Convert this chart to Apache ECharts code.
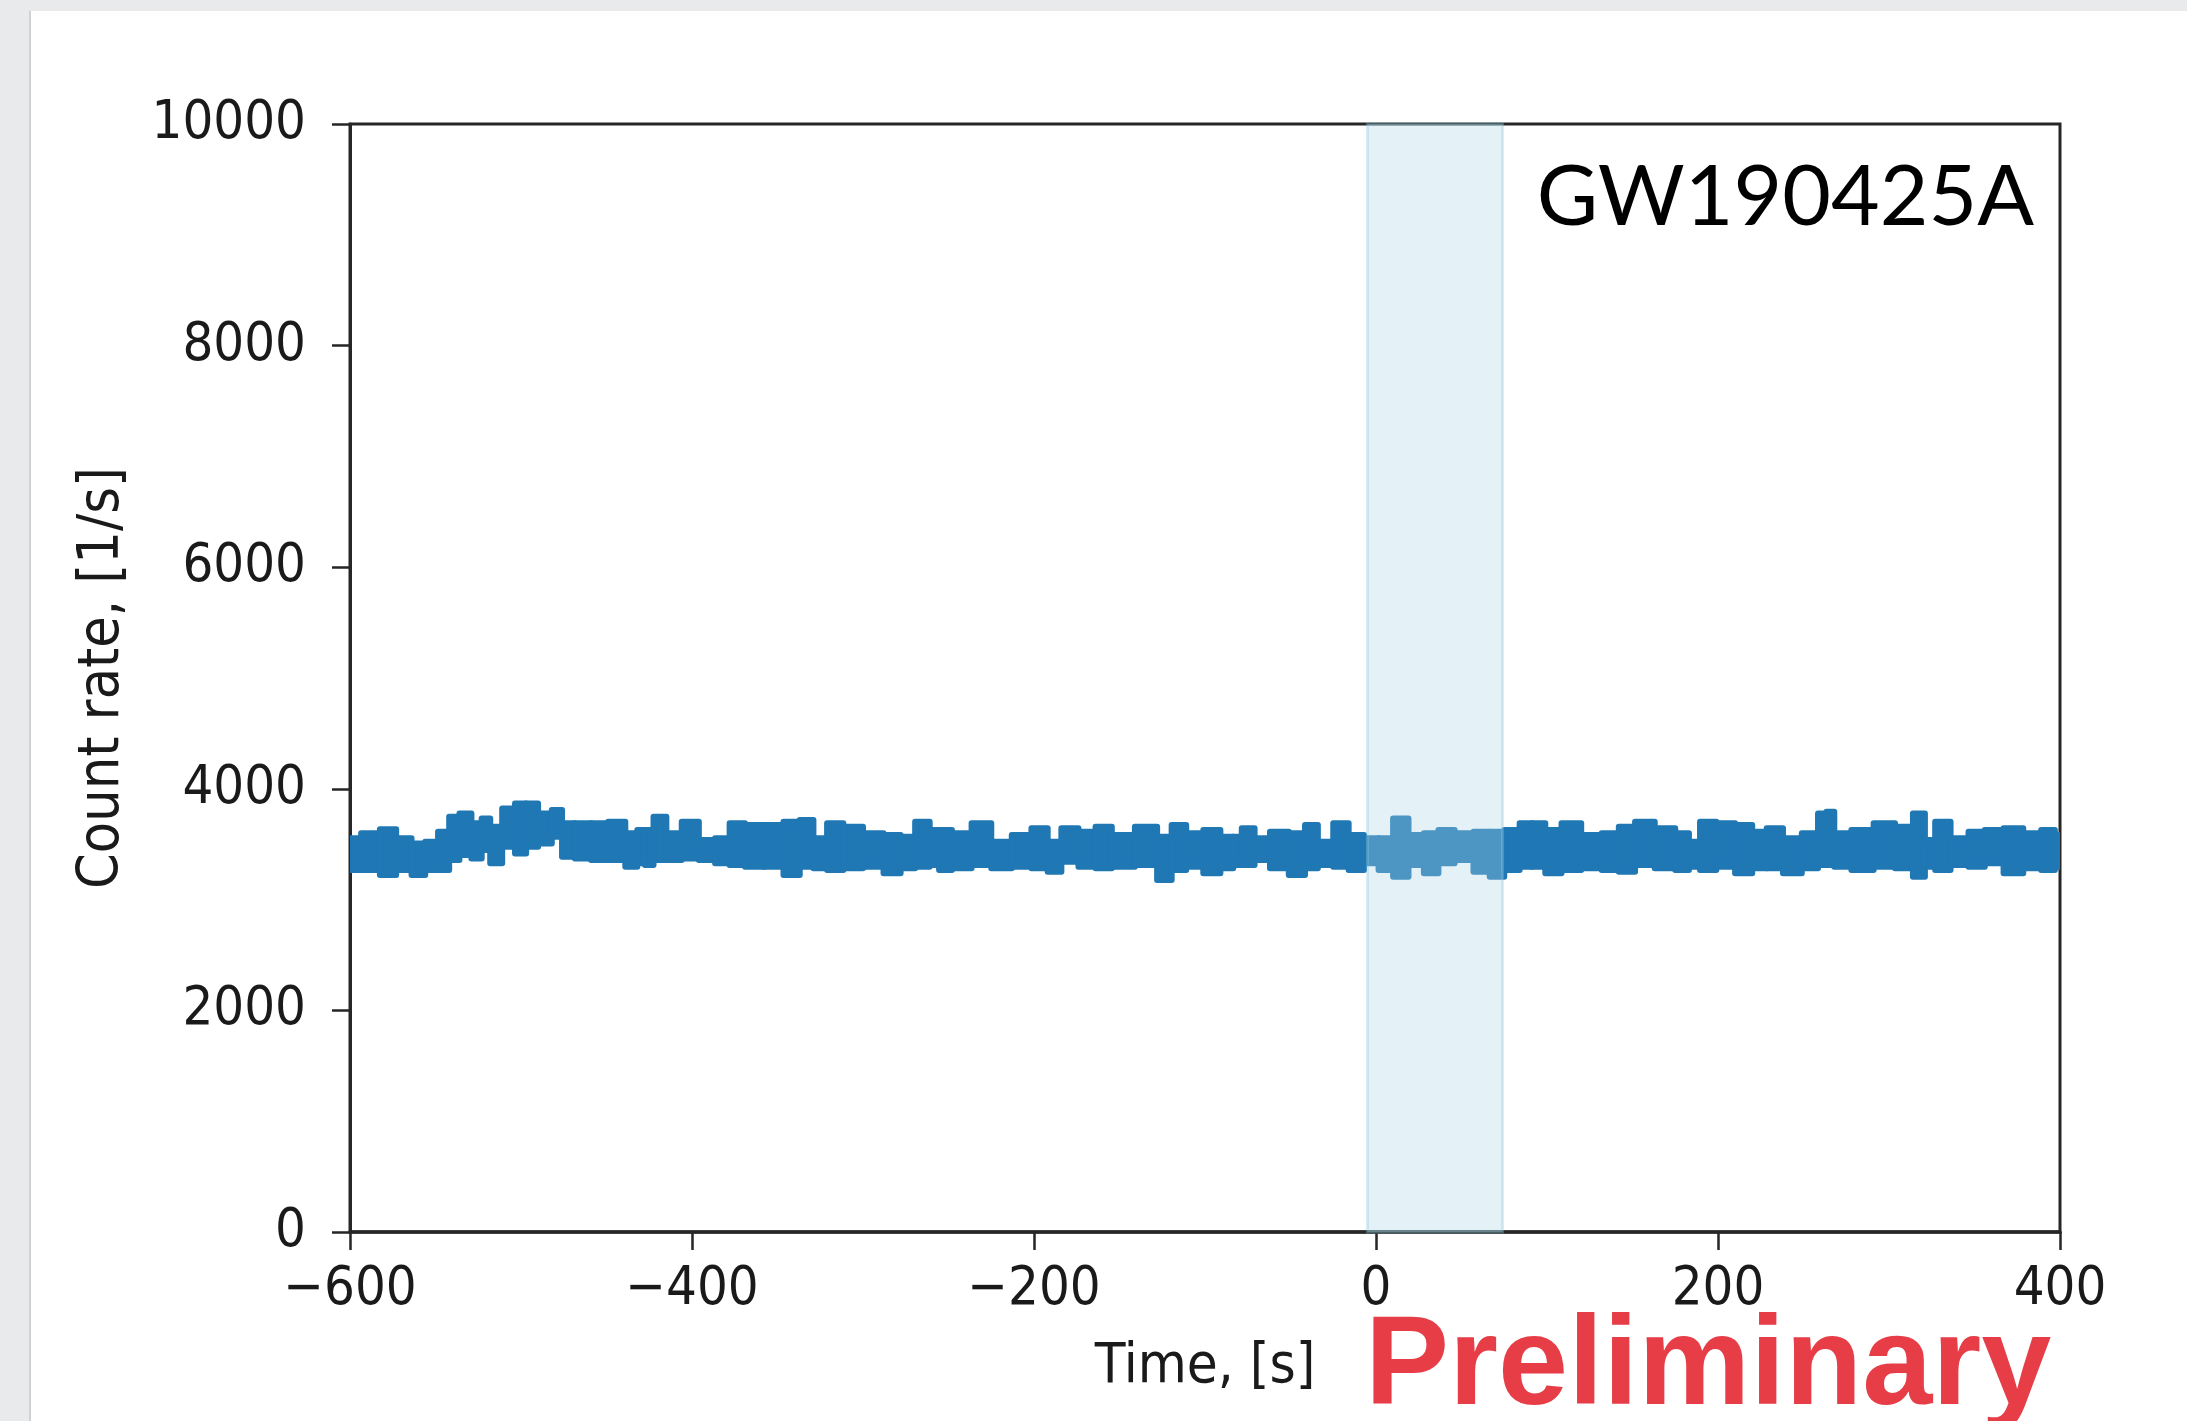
<!DOCTYPE html>
<html>
<head>
<meta charset="utf-8">
<script src="https://cdn.jsdelivr.net/npm/echarts@6/dist/echarts.min.js"></script>
<style>
  html, body { margin: 0; padding: 0; width: 2187px; height: 1421px; overflow: hidden; background: #e8eaeb; }
  #card { position: absolute; left: 29px; top: 11px; right: 0; bottom: 0; background: #ffffff; border-left: 2px solid #cfd2d4; }
  #chart { position: absolute; left: 0; top: 0; width: 2187px; height: 1421px; }
</style>
</head>
<body>
<div id="card"></div>
<div id="chart"></div>
<script>
// ---- data ----
// time [s] of each envelope reading
const times = [-600,-587,-578,-568,-560,-552,-545,-539,-533,-525,-521,-515,-507,-500,-494,-486,-478,-474,-463,-455,-443,-435,-429,
  -426,-419,-411,-401,-391,-382,-374,-364,-352,-341,-333,-325,-317,-306,-294,-282,-274,-265,-257,
  -254,-242,-231,-219,-207,-196,-188,-180,-168,-160,-149,-133,-123,-116,-106,-96,-86,
  -81,-76,-66,-58,-44,-39,-29,-21,-11,-3,6,14,24,32,41,51,63,70,80,88,
  95,103,114,126,138,146,157,169,181,185,194,204,216,224,233,243,255,262,
  265,271,285,297,310,318,324,330,342,351,361,373,384,394,400];
// upper edge of the noisy count-rate trace [1/s]
const rateHigh = [3553,3598,3634,3553,3507,3523,3613,3748,3778,3688,3733,3658,3823,3868,3868,3778,3808,3688,3688,3688,3703,3598,3628,
  3628,3748,3598,3703,3538,3553,3688,3673,3673,3703,3718,3553,3688,3658,3598,3583,3568,3703,3628,
  3628,3598,3688,3523,3583,3643,3523,3643,3613,3658,3583,3658,3568,3673,3598,3628,3568,
  3568,3643,3553,3613,3598,3673,3523,3688,3583,3553,3553,3733,3583,3598,3628,3598,3613,3613,3628,3688,
  3688,3628,3688,3583,3598,3658,3703,3643,3598,3523,3703,3688,3673,3613,3643,3553,3598,3778,
  3793,3598,3628,3688,3658,3778,3538,3703,3553,3613,3628,3643,3598,3628,3583];
// lower edge of the noisy count-rate trace [1/s]
const rateLow = [3267,3267,3222,3267,3222,3267,3267,3357,3402,3372,3447,3327,3477,3417,3477,3507,3568,3387,3372,3357,3357,3297,3327,
  3312,3357,3357,3372,3357,3327,3312,3297,3297,3222,3297,3282,3267,3282,3297,3237,3282,3297,3312,
  3267,3282,3312,3282,3297,3282,3252,3342,3297,3282,3297,3312,3177,3267,3297,3237,3282,
  3312,3312,3357,3282,3222,3282,3312,3297,3267,3327,3267,3207,3312,3237,3327,3357,3252,3207,3267,3297,
  3297,3237,3267,3282,3267,3252,3312,3282,3267,3297,3267,3297,3237,3282,3282,3237,3282,3312,
  3312,3297,3267,3297,3282,3207,3297,3267,3312,3297,3327,3237,3282,3267,3297];
// highlighted interval [s]
const shadeStart = -5;
const shadeEnd = 74;
// axes
const xTicks = { min: -600, max: 400, step: 200 };
const yTicks = { min: 0, max: 10000, step: 2000 };
const eventName = 'GW190425A';
const stampText = 'Preliminary';

// ---- chart ----
const LINE = '#1f77b4';
const AX = '#262626';
const labelFont = '"DejaVu Sans Condensed", "DejaVu Sans", sans-serif';

const chart = echarts.init(document.getElementById('chart'), null, { renderer: 'canvas' });

// each reading covers the span half-way to its neighbours (step 'middle')
const bandData = times.map((t, i) => {
  const left = i === 0 ? t : (times[i - 1] + t) / 2;
  const right = i === times.length - 1 ? t : (t + times[i + 1]) / 2;
  return [left, right, rateLow[i], rateHigh[i]];
});

const minus = v => (v < 0 ? '\u2212' + Math.abs(v) : String(v));

chart.setOption({
  animation: false,
  backgroundColor: 'transparent',
  grid: {
    left: 350, top: 124, width: 1710, height: 1108,
    show: true, borderColor: AX, borderWidth: 3, backgroundColor: 'transparent'
  },
  xAxis: {
    type: 'value', min: xTicks.min, max: xTicks.max, interval: xTicks.step,
    name: 'Time, [s]', nameLocation: 'middle', nameGap: 107,
    nameTextStyle: { fontFamily: labelFont, fontSize: 56, color: '#1a1a1a' },
    axisLine: { show: true, onZero: false, lineStyle: { color: AX, width: 3.5 } },
    axisTick: { show: true, inside: false, length: 18, lineStyle: { color: AX, width: 2.5 } },
    axisLabel: { margin: 31, fontFamily: labelFont, fontSize: 54, color: '#1a1a1a', formatter: minus },
    splitLine: { show: false }
  },
  yAxis: {
    type: 'value', min: yTicks.min, max: yTicks.max, interval: yTicks.step,
    name: 'Count rate, [1/s]', nameLocation: 'middle', nameGap: 218, nameRotate: 90,
    nameTextStyle: { fontFamily: labelFont, fontSize: 57, color: '#1a1a1a' },
    axisLine: { show: true, onZero: false, lineStyle: { color: AX, width: 3 } },
    axisTick: { show: true, inside: false, length: 18, lineStyle: { color: AX, width: 2.5 } },
    axisLabel: { margin: 44, fontFamily: labelFont, fontSize: 54, color: '#1a1a1a', formatter: v => String(v) },
    splitLine: { show: false }
  },
  graphic: [
    {
      type: 'text', z: 20,
      style: {
        text: eventName, x: 2034, y: 156, textAlign: 'right', textVerticalAlign: 'top',
        font: '84px Lato, "Open Sans", sans-serif', fill: '#000000'
      }
    },
    {
      type: 'text', z: 20,
      style: {
        text: stampText, x: 1365, y: 1306, textAlign: 'left', textVerticalAlign: 'top',
        font: 'bold 126px "Liberation Sans", Arial, sans-serif', fill: '#e63d47'
      }
    }
  ],
  series: [
    {
      name: 'rate', type: 'custom', z: 2,
      data: bandData,
      encode: { x: [0, 1], y: [2, 3] },
      clip: true,
      renderItem: function (params, api) {
        const p0 = api.coord([api.value(0), api.value(3)]);
        const p1 = api.coord([api.value(1), api.value(2)]);
        return {
          type: 'rect',
          shape: { x: p0[0], y: p0[1], width: p1[0] - p0[0], height: p1[1] - p0[1] },
          style: { fill: LINE, stroke: LINE, lineWidth: 6, lineJoin: 'round' }
        };
      }
    },
    {
      name: 'shade', type: 'line', data: [], z: 10,
      markArea: {
        silent: true, z: 10,
        itemStyle: { color: 'rgba(173,216,230,0.33)', borderColor: 'rgba(140,200,220,0.35)', borderWidth: 3 },
        data: [[{ xAxis: shadeStart }, { xAxis: shadeEnd }]]
      }
    }
  ]
});
</script>
</body>
</html>
